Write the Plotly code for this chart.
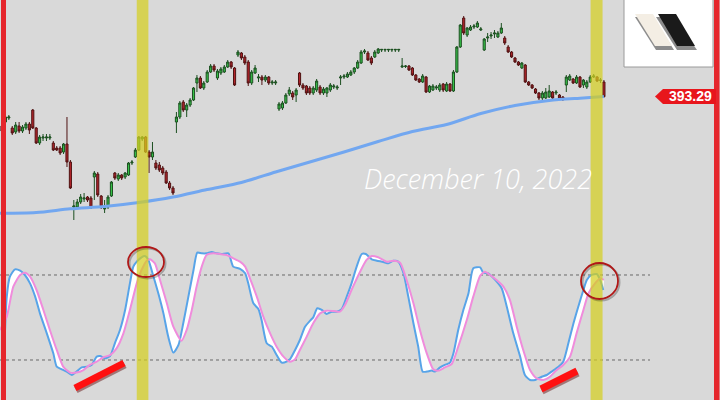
import plotly.graph_objects as go

# ---------------- DATA ----------------
open_ = [364, 368, 372, 362, 358, 364, 359, 362, 366, 380,
         362, 347, 352, 352, 352, 347, 342, 342, 338, 346,
         328, 283, 283, 288, 291, 293, 292, 313, 316, 294,
         281, 283, 294, 317, 311, 315, 313, 315, 327, 333,
         340, 351, 353, 338, 333, 327, 325, 322, 318, 307,
         302, 368, 373, 388, 380, 385, 390, 407, 412, 402,
         408, 418, 424, 412, 417, 418, 423, 428, 422, 435,
         437, 433, 428, 407, 417, 412, 413, 410, 413, 407,
         407, 381, 382, 387, 396, 397, 395, 417, 405, 404,
         402, 397, 400, 403, 397, 397, 400, 403, 402, 412,
         413, 413, 415, 418, 422, 427, 438, 437, 432, 433,
         437, 440, 440, 440, 440, 440, 440, 423, 423.5, 424,
         422, 415, 411, 408, 413, 398, 400, 402, 400, 406,
         399, 406, 399, 418, 443, 472, 455, 460, 463, 463,
         460, 440, 452, 454, 456, 453, 457, 452, 443, 438,
         432, 428, 422, 425, 408, 405, 401, 397, 392, 392,
         393, 398, 397, 395, 393, 405, 410, 411, 407, 413,
         405, 403, 408, 413, 413, 409.5, 408]
high = [366, 375, 375, 364, 368, 368, 365, 368, 368, 381,
        363, 355, 356, 356, 356, 349, 344, 344, 347, 373,
        330, 290, 291, 296, 297, 294, 294, 319, 318, 295,
        290, 295, 309, 318, 317, 316, 318, 328, 330, 342,
        354, 354, 354, 340, 348, 330, 328, 324, 320, 309,
        304, 378, 389, 390, 387, 392, 403, 415, 414, 409,
        420, 426, 426, 421, 423, 425, 430, 429, 423, 440,
        438, 435, 430, 420, 425, 416, 415, 415, 414, 410,
        410, 388, 389, 397, 403, 399, 402, 418, 407, 405,
        404, 404, 411, 405, 403, 403, 407, 406, 405, 415,
        416, 418, 420, 423, 430, 440, 441, 439, 434, 440,
        442, 441, 441, 441, 441, 441, 441, 432, 425, 425,
        423, 416, 412, 416, 414, 405, 406, 405, 407, 407,
        408, 407, 420, 444, 466, 474, 463, 465, 466, 469,
        463, 452, 457, 458, 460, 459, 467, 454, 445, 439,
        433, 429, 428, 426, 409, 406, 402, 398, 399, 402,
        405, 399, 400, 396, 394, 415, 416, 412, 415, 414,
        411, 410, 415, 416, 414, 412, 410]
low = [357, 366, 370, 355, 356, 357, 357, 360, 356, 361,
       346, 345, 349, 349, 350, 339, 339, 335, 336, 323,
       301, 270, 281, 286, 288, 288, 281, 290, 293, 281,
       277, 281, 293, 310, 309, 310, 311, 314, 325, 332,
       339, 349, 337, 317, 330, 320, 318, 315, 306, 300,
       295, 357, 371, 378, 373, 383, 389, 398, 401, 400,
       407, 417, 418, 410, 415, 417, 422, 421, 404, 433,
       430, 425, 404, 405, 416, 408, 405, 408, 405, 405,
       405, 379, 380, 386, 394, 390, 388, 403, 400, 395,
       395, 395, 398, 395, 395, 393, 398, 401, 400, 405,
       411, 412, 414, 416, 421, 426, 436, 429, 425, 432,
       436, 438, 438, 438, 438, 438, 438, 422, 422, 419,
       414, 409, 407, 407, 397, 397, 399, 400, 398, 398,
       398, 398, 398, 417, 442, 455, 453, 459, 461, 462,
       459, 439, 448, 451, 452, 452, 456, 445, 437, 432,
       427, 424, 421, 407, 404, 401, 396, 390, 390, 391,
       392, 391, 395, 391, 389, 398, 409, 406, 406, 402,
       402, 401, 407, 412, 408, 407, 392.5]
close = [359, 373, 373, 357, 365, 359, 363, 366, 360, 362,
         347, 353, 353, 353, 353, 340, 340, 337, 346, 328,
         302, 284, 288, 293, 292, 290, 282, 317, 295, 283,
         282, 293, 308, 312, 315, 312, 317, 327, 328, 340,
         353, 353, 338, 333, 338, 322, 320, 317, 307, 302,
         297, 373, 387, 380, 385, 390, 402, 412, 402, 407,
         418, 424, 420, 419, 421, 423, 428, 423, 405, 438,
         432, 427, 407, 418, 422, 413, 410, 413, 407, 408,
         408, 386, 387, 395, 400, 393, 400, 405, 402, 397,
         397, 402, 409, 397, 401, 402, 405, 404, 403, 413,
         414, 416, 418, 422, 428, 438, 439, 430, 427, 438,
         441, 440.6, 440.6, 440.6, 440.6, 440.6, 440.6, 424, 424, 420,
         415, 410, 408, 414, 398, 404, 404, 403, 405, 400,
         406, 399, 418, 443, 465, 457, 462, 463, 464, 467,
         461, 451, 453, 455, 457, 457, 462, 447, 438, 433,
         428, 425, 427, 408, 405, 402, 397, 392, 397, 398,
         399, 392, 398, 392, 391, 413, 414, 407, 413, 403,
         410, 408, 413, 414, 409, 410, 393.29]

ma_x = [-0.6, 10, 20, 30, 40, 50, 60, 70, 80, 90, 100, 110, 120, 130, 140, 150, 160, 170, 176]
ma_v = [276.7, 277.5, 281.2, 283.5, 287.5, 293, 300.5, 307.5, 318, 328, 338, 348.5,
        358.5, 365.5, 376.5, 384.5, 389.5, 392, 393.5]

k_x = [0.9, 1.4, 2.3, 3.8, 5.3, 6.7, 8.2, 9.7, 11.1, 13.1,
       15.0, 16.0, 17.5, 18.9, 20.4, 21.8, 23.3, 24.8, 26.2, 27.7,
       28.7, 30.1, 31.6, 33.0, 34.5, 36.0, 37.4, 38.4, 39.4, 40.8,
       41.8, 42.8, 44.3, 45.7, 47.2, 48.6, 50.1, 51.6, 53.0, 54.5,
       56.0, 57.1, 58.4, 59.8, 61.3, 62.8, 64.2, 66.2, 67.6, 69.6,
       71.1, 72.0, 73.5, 75.0, 75.9, 77.4, 78.9, 80.3, 81.8, 83.2,
       84.2, 85.7, 87.1, 88.6, 90.1, 91.0, 92.2, 93.5, 94.9, 96.4,
       97.9, 99.3, 100.8, 102.2, 103.7, 105.2, 106.4, 108.1, 109.6, 111.5,
       113.0, 114.4, 115.9, 117.4, 118.8, 120.3, 121.7, 123.0, 124.2, 125.6,
       126.6, 128.1, 129.5, 131.0, 132.0, 133.4, 134.9, 136.4, 137.8, 139.8,
       140.7, 142.2, 144.2, 146.1, 147.6, 149.5, 151.5, 152.9, 154.4, 155.9,
       157.8, 159.3, 160.7, 162.7, 164.1, 165.6, 167.1, 168.5, 170.0, 171.0,
       172.4, 173.9, 174.9, 175.8]
k_v = [41.2, 64.7, 78.8, 84.0, 83.1, 80.0, 74.1, 64.7, 52.9, 38.8,
       24.7, 15.3, 13.4, 11.8, 9.4, 11.8, 14.8, 15.3, 16.5, 22.4,
       22.8, 21.2, 22.8, 31.8, 41.2, 55.3, 74.1, 85.9, 89.4, 92.5,
       93.4, 90.6, 78.8, 67.1, 52.9, 36.5, 25.2, 30.6, 45.9, 64.7,
       83.5, 95.8, 95.3, 95.3, 96.2, 95.3, 94.8, 95.3, 85.9, 84.3,
       81.2, 74.1, 60.0, 55.8, 48.2, 31.8, 29.4, 23.5, 18.1, 18.8,
       20.5, 27.1, 34.1, 43.5, 47.8, 50.1, 56.5, 55.3, 52.5, 54.1,
       54.1, 55.8, 64.7, 74.1, 85.9, 94.8, 94.8, 91.1, 90.1, 89.2,
       88.2, 90.1, 89.4, 81.2, 64.7, 45.9, 29.4, 11.8, 11.8, 12.5,
       11.8, 14.8, 16.5, 18.1, 24.7, 41.2, 55.3, 67.1, 84.7, 85.4,
       81.6, 81.2, 76.5, 70.6, 57.6, 38.8, 22.4, 9.4, 5.9, 5.9,
       8.2, 9.4, 11.8, 15.3, 18.8, 31.8, 45.9, 57.6, 69.4, 76.5,
       80.0, 80.7, 76.5, 69.4]

d_x = [-0.6, 1.4, 3.3, 5.3, 6.7, 8.2, 10.1, 12.1, 14.0, 16.0,
       17.9, 19.9, 21.8, 23.8, 25.7, 27.7, 29.6, 31.6, 33.5, 35.5,
       37.4, 39.4, 40.8, 42.3, 43.3, 44.7, 46.2, 48.2, 50.1, 52.5,
       54.0, 55.5, 56.9, 58.4, 59.8, 61.8, 63.7, 65.7, 67.6, 69.6,
       71.1, 72.5, 74.5, 76.4, 78.4, 80.3, 82.3, 84.2, 85.7, 87.1,
       89.1, 91.0, 93.0, 94.9, 96.9, 98.8, 100.3, 102.2, 104.7, 106.6,
       108.1, 110.0, 112.5, 114.4, 116.4, 118.3, 120.3, 122.2, 124.2, 126.1,
       127.6, 129.5, 131.5, 133.4, 135.9, 137.8, 139.8, 141.2, 142.7, 144.6,
       146.6, 148.5, 150.5, 152.4, 154.4, 156.3, 158.3, 160.2, 162.2, 164.1,
       166.1, 168.0, 170.0, 171.5, 173.4, 174.9, 176.0]
d_v = [41.2, 50.6, 71.8, 80.0, 81.6, 78.8, 69.4, 55.3, 41.2, 27.1,
       15.3, 11.1, 11.1, 12.9, 16.5, 18.8, 21.9, 23.5, 28.2, 38.8,
       55.3, 74.1, 83.5, 90.1, 91.1, 88.2, 76.5, 60.0, 43.5, 33.6,
       41.2, 55.3, 71.8, 85.9, 94.1, 95.3, 94.8, 94.1, 91.8, 89.4,
       85.9, 77.6, 64.7, 50.6, 38.8, 29.4, 22.4, 18.8, 20.5, 27.1,
       36.5, 45.9, 52.9, 54.8, 54.6, 54.1, 58.8, 69.4, 82.3, 90.6,
       93.4, 92.5, 89.4, 90.1, 88.7, 76.5, 60.0, 41.2, 24.7, 13.4,
       12.5, 14.8, 17.2, 29.4, 48.2, 64.7, 79.4, 82.3, 80.0, 76.5,
       71.8, 62.4, 43.5, 27.1, 12.9, 7.1, 5.9, 8.2, 12.9, 16.5,
       22.4, 38.8, 55.3, 67.1, 74.1, 77.6, 76.5]

stoch_levels = [80, 20]
highlight_bars = [[39.4, 42.8], [172.1, 175.6]]
last_price_label = "393.29"
date_text = "December 10, 2022"

# ---------------- FIGURE ----------------
W, H = 720, 400
BG = "#d9d9d9"


def px(x):
    return x / W


def py(y):
    return 1 - y / H


def ppath(points):
    s = "M " + " L ".join(f"{px(x):.5f},{py(y):.5f}" for x, y in points) + " Z"
    return s


idx = list(range(len(close)))
fig = go.Figure()

fig.add_trace(go.Candlestick(
    x=idx, open=open_, high=high, low=low, close=close,
    increasing=dict(line=dict(color="#1c4f20", width=1), fillcolor="#36c248"),
    decreasing=dict(line=dict(color="#4f1212", width=1), fillcolor="#b3242a"),
    whiskerwidth=0, showlegend=False, hoverinfo="skip"))

fig.add_trace(go.Scatter(
    x=ma_x, y=ma_v, mode="lines",
    line=dict(color="#72a7f0", width=3, shape="spline", smoothing=0.8),
    showlegend=False, hoverinfo="skip"))

# Stochastic: %D baseline (invisible), %K with white fill between, %D line on top
fig.add_trace(go.Scatter(
    x=d_x, y=d_v, yaxis="y2", mode="lines",
    line=dict(color="rgba(0,0,0,0)", width=0, shape="spline", smoothing=0.6),
    showlegend=False, hoverinfo="skip"))
fig.add_trace(go.Scatter(
    x=k_x, y=k_v, yaxis="y2", mode="lines", fill="tonexty", fillcolor="#ffffff",
    line=dict(color="#58a4e8", width=2, shape="spline", smoothing=0.6),
    showlegend=False, hoverinfo="skip"))
fig.add_trace(go.Scatter(
    x=d_x, y=d_v, yaxis="y2", mode="lines",
    line=dict(color="#f08cdc", width=2, shape="spline", smoothing=0.6),
    showlegend=False, hoverinfo="skip"))

shapes = []
# dotted overbought / oversold levels
for lv in stoch_levels:
    shapes.append(dict(type="line", xref="paper", yref="y2", x0=0, x1=px(650), y0=lv, y1=lv,
                       line=dict(color="#6a6a6a", width=1, dash="dot"), layer="below"))
# yellow highlight bars
for a, b in highlight_bars:
    shapes.append(dict(type="rect", xref="x", yref="paper", x0=a, x1=b, y0=0, y1=1,
                       fillcolor="rgba(212,206,32,0.72)", line=dict(width=0), layer="above"))
# red ellipses (with soft shadow)
for (x0, y0, x1, y1) in [(128, 247, 164, 277), (581, 263, 618, 299)]:
    shapes.append(dict(type="circle", xref="paper", yref="paper",
                       x0=px(x0 + 1.5), x1=px(x1 + 1.5), y0=py(y0 + 1.5), y1=py(y1 + 1.5),
                       line=dict(color="rgba(0,0,0,0.25)", width=2), layer="above"))
    shapes.append(dict(type="circle", xref="paper", yref="paper",
                       x0=px(x0), x1=px(x1), y0=py(y0), y1=py(y1),
                       line=dict(color="#b01818", width=1.8), layer="above"))
# red trend strokes
for (x0, y0, x1, y1) in [(75, 388, 124, 363), (541, 389, 577, 371)]:
    shapes.append(dict(type="line", xref="paper", yref="paper",
                       x0=px(x0 + 1), x1=px(x1 + 1), y0=py(y0 + 2), y1=py(y1 + 2),
                       line=dict(color="rgba(90,0,0,0.45)", width=7), layer="above"))
    shapes.append(dict(type="line", xref="paper", yref="paper",
                       x0=px(x0), x1=px(x1), y0=py(y0), y1=py(y1),
                       line=dict(color="#ff1010", width=7), layer="above"))
# red frame lines
shapes.append(dict(type="rect", xref="paper", yref="paper", x0=px(1), x1=px(6), y0=0, y1=1,
                   fillcolor="#e5262c", line=dict(width=0), layer="above"))
shapes.append(dict(type="rect", xref="paper", yref="paper", x0=px(714), x1=px(719.5), y0=0, y1=1,
                   fillcolor="#e5262c", line=dict(width=0), layer="above"))
# logo box
shapes.append(dict(type="rect", xref="paper", yref="paper", x0=px(624), x1=px(713), y0=py(67), y1=py(-2),
                   fillcolor="#ffffff", line=dict(color="#9a9a9a", width=1), layer="above"))
shapes.append(dict(type="path", xref="paper", yref="paper",
                   path=ppath([(635, 17), (653, 17), (674, 50), (656, 50)]),
                   fillcolor="#8c8c8c", line=dict(width=0), layer="above"))
shapes.append(dict(type="path", xref="paper", yref="paper",
                   path=ppath([(656, 17), (674, 17), (697, 50), (677, 50)]),
                   fillcolor="#8c8c8c", line=dict(width=0), layer="above"))
shapes.append(dict(type="path", xref="paper", yref="paper",
                   path=ppath([(635, 14), (653, 14), (672, 46), (655, 46)]),
                   fillcolor="#f4eee4", line=dict(width=0), layer="above"))
shapes.append(dict(type="path", xref="paper", yref="paper",
                   path=ppath([(658, 14), (676, 14), (695, 46), (677, 46)]),
                   fillcolor="#1a1a1a", line=dict(width=0), layer="above"))
# price tag
shapes.append(dict(type="path", xref="paper", yref="paper",
                   path=ppath([(655, 96.5), (663, 89), (716, 89), (716, 104), (663, 104)]),
                   fillcolor="#e8161c", line=dict(width=0), layer="above"))

annotations = [
    dict(xref="paper", yref="paper", x=px(690), y=py(96.5), text=f"<b>{last_price_label}</b>",
         showarrow=False, xanchor="center", yanchor="middle",
         font=dict(family="Liberation Sans, Arial, sans-serif", size=14, color="#ffffff")),
    dict(xref="paper", yref="paper", x=px(362), y=py(178), text=date_text,
         showarrow=False, xanchor="left", yanchor="middle",
         font=dict(family="Open Sans, sans-serif", size=27, color="#ffffff", style="italic", weight=300)),
]

fig.update_layout(
    width=W, height=H, margin=dict(l=0, r=0, t=0, b=0),
    paper_bgcolor=BG, plot_bgcolor=BG, showlegend=False, boxgap=0.12,
    xaxis=dict(range=[-0.585, 209.94], visible=False, showgrid=False, zeroline=False,
               rangeslider=dict(visible=False), fixedrange=True),
    yaxis=dict(range=[90, 490], visible=False, showgrid=False, zeroline=False, fixedrange=True),
    yaxis2=dict(range=[-8.24, 274.1], overlaying="y", visible=False, showgrid=False,
                zeroline=False, fixedrange=True),
    shapes=shapes, annotations=annotations,
)

fig.write_html("out.html", config={"displayModeBar": False},
               post_script="document.body.style.margin='0';document.body.style.padding='0';"
                           "document.body.style.overflow='hidden';")
